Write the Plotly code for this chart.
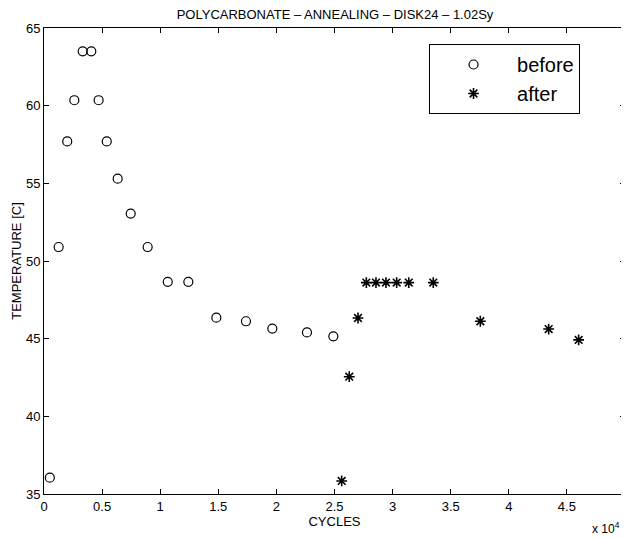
import plotly.graph_objects as go

before_cycles = [500, 1260, 2000, 2610, 3330, 4070, 4700, 5400, 6340, 7460, 8920,
                 10650, 12420, 14830, 17380, 19650, 22630, 24900]
before_temp = [36.05, 50.9, 57.7, 60.35, 63.5, 63.5, 60.35, 57.7, 55.3, 53.05, 50.9,
               48.66, 48.66, 46.35, 46.12, 45.65, 45.4, 45.15]

after_cycles = [25620, 26270, 27020, 27740, 28570, 29430, 30350, 31390, 33500,
                37550, 43430, 46010]
after_temp = [35.84, 42.55, 46.33, 48.61, 48.61, 48.61, 48.61, 48.61, 48.61,
              46.12, 45.62, 44.92]

x_tickvals = [0, 5000, 10000, 15000, 20000, 25000, 30000, 35000, 40000, 45000, 50000]
x_ticktext = ["0", "0.5", "1", "1.5", "2", "2.5", "3", "3.5", "4", "4.5", "5"]
y_tickvals = [35, 40, 45, 50, 55, 60, 65]

FONT = "Liberation Sans, Arial, Helvetica, sans-serif"

fig = go.Figure()
fig.add_trace(go.Scatter(
    x=before_cycles, y=before_temp, mode="markers", name="before",
    marker=dict(symbol="circle-open", size=9, color="black", line=dict(width=1.2)),
))
fig.add_trace(go.Scatter(
    x=after_cycles, y=after_temp, mode="markers", name="after",
    marker=dict(symbol="asterisk-open", size=9, color="black", line=dict(width=1.6)),
))

axis_common = dict(
    showgrid=False, zeroline=False, showline=True, linecolor="black", linewidth=1,
    mirror="ticks", ticks="inside", ticklen=5, tickcolor="black", automargin=False,
    ticklabeloverflow="allow",
    tickfont=dict(family=FONT, size=13, color="black"),
)

# page body has an 8px margin, so the figure is drawn 8px smaller
fig.update_layout(
    width=621, height=530,
    margin=dict(l=36, r=4, t=20, b=44),
    paper_bgcolor="white", plot_bgcolor="white",
    font=dict(family=FONT, color="black"),
    title=dict(text="POLYCARBONATE – ANNEALING – DISK24 – 1.02Sy",
               x=0.5266, xanchor="center", y=0.9877, yanchor="middle",
               font=dict(family=FONT, size=13, color="black")),
    xaxis=dict(range=[0, 50000], tickvals=x_tickvals, ticktext=x_ticktext,
               title=dict(text="CYCLES", font=dict(family=FONT, size=13), standoff=2),
               **axis_common),
    yaxis=dict(range=[35, 65], tickvals=y_tickvals,
               title=dict(text="TEMPERATURE [C]", font=dict(family=FONT, size=13), standoff=1),
               **axis_common),
    legend=dict(x=0.6627, y=0.9657, xanchor="left", yanchor="top",
                bordercolor="black", borderwidth=1, bgcolor="white",
                font=dict(family=FONT, size=20, color="black"),
                itemwidth=77, tracegroupgap=0),
    showlegend=True,
)

fig.add_annotation(text="x 10<sup>4</sup>", xref="paper", yref="paper",
                   x=0.995, y=-0.073, xanchor="right", yanchor="middle", showarrow=False,
                   font=dict(family=FONT, size=12, color="black"))

fig.write_html("out.html")
